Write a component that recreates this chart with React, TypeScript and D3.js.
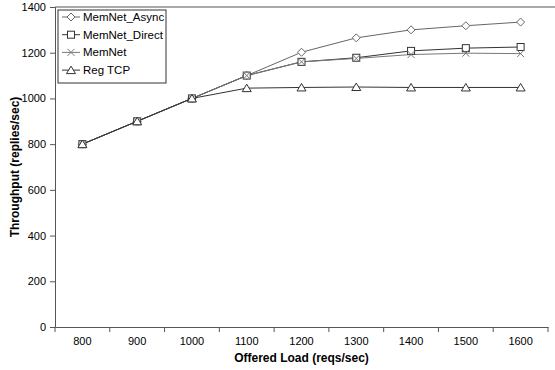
import React, { useEffect, useRef } from 'react';
import * as d3 from 'd3';

const loads = [800, 900, 1000, 1100, 1200, 1300, 1400, 1500, 1600];
const asyncVals = [800, 900, 1000, 1100, 1202, 1265, 1300, 1318, 1334];
const directVals = [800, 900, 1000, 1100, 1160, 1178, 1208, 1220, 1225];
const memnetVals = [800, 900, 1000, 1100, 1160, 1175, 1192, 1198, 1196];
const tcpVals = [800, 900, 1000, 1045, 1048, 1050, 1048, 1048, 1048];
const yTicks = [0, 200, 400, 600, 800, 1000, 1200, 1400];

const series = [
  { name: 'MemNet_Async', values: asyncVals, marker: 'diamond', color: '#666' },
  { name: 'MemNet_Direct', values: directVals, marker: 'square', color: '#333' },
  { name: 'MemNet', values: memnetVals, marker: 'cross', color: '#777' },
  { name: 'Reg TCP', values: tcpVals, marker: 'triangle', color: '#333' },
];

const width = 555;
const height = 370;
const margin = { top: 7, right: 7, bottom: 43, left: 55 };
const font = "'Liberation Sans', Arial, sans-serif";

function drawMarker(g: any, type: string, x: number, y: number, color: string) {
  if (type === 'diamond') {
    g.append('path').attr('d', `M${x},${y - 4}L${x + 4},${y}L${x},${y + 4}L${x - 4},${y}Z`)
      .attr('fill', 'white').attr('stroke', color).attr('stroke-width', 1);
  } else if (type === 'square') {
    g.append('rect').attr('x', x - 3.5).attr('y', y - 3.5).attr('width', 7).attr('height', 7)
      .attr('fill', 'white').attr('stroke', color).attr('stroke-width', 1);
  } else if (type === 'cross') {
    g.append('path').attr('d', `M${x - 3.5},${y - 3.5}L${x + 3.5},${y + 3.5}M${x - 3.5},${y + 3.5}L${x + 3.5},${y - 3.5}`)
      .attr('stroke', color).attr('stroke-width', 1);
  } else {
    g.append('path').attr('d', `M${x},${y - 4}L${x + 4.5},${y + 3.5}L${x - 4.5},${y + 3.5}Z`)
      .attr('fill', 'white').attr('stroke', color).attr('stroke-width', 1);
  }
}

export default function App() {
  const ref = useRef<SVGSVGElement>(null);

  useEffect(() => {
    const svg = d3.select(ref.current);
    svg.selectAll('*').remove();

    const innerW = width - margin.left - margin.right;
    const innerH = height - margin.top - margin.bottom;

    const x = d3.scaleBand<number>().domain(loads).range([0, innerW]);
    const y = d3.scaleLinear().domain([0, 1400]).range([innerH, 0]);

    const g = svg.append('g').attr('transform', `translate(${margin.left},${margin.top})`);

    // top border
    g.append('line').attr('x1', 0).attr('x2', width - margin.left).attr('y1', 0).attr('y2', 0)
      .attr('stroke', '#555').attr('stroke-width', 1);

    const xAxis = d3.axisBottom(x).tickSize(0).tickPadding(10);
    const xg = g.append('g').attr('transform', `translate(0,${innerH})`).call(xAxis);
    xg.select('.domain').attr('stroke', '#555');
    xg.selectAll('text').attr('font-size', 11).attr('font-family', font).attr('fill', '#000');
    const bounds = loads.map((d) => x(d)!).concat([innerW]);
    xg.selectAll('.tickmark').data(bounds).join('line').attr('class', 'tickmark')
      .attr('x1', (d) => d).attr('x2', (d) => d).attr('y1', 0).attr('y2', 5).attr('stroke', '#555');

    const yAxis = d3.axisLeft(y).tickValues(yTicks).tickFormat(d3.format('d')).tickSize(5).tickPadding(4);
    const yg = g.append('g').call(yAxis);
    yg.select('.domain').attr('stroke', '#555');
    yg.selectAll('.tick line').attr('stroke', '#555');
    yg.selectAll('text').attr('font-size', 11).attr('font-family', font).attr('fill', '#000');

    const line = d3.line<number>()
      .x((d, i) => x(loads[i])! + x.bandwidth() / 2)
      .y((d) => y(d));

    series.forEach((s) => {
      g.append('path').datum(s.values).attr('d', line).attr('fill', 'none')
        .attr('stroke', s.color).attr('stroke-width', 1);
    });
    series.forEach((s) => {
      s.values.forEach((v, i) => {
        drawMarker(g, s.marker, x(loads[i])! + x.bandwidth() / 2, y(v), s.color);
      });
    });

    // legend
    const lg = svg.append('g').attr('transform', 'translate(58,10)');
    lg.append('rect').attr('x', 0).attr('y', 0).attr('width', 108).attr('height', 73)
      .attr('fill', 'white').attr('stroke', '#333').attr('stroke-width', 1);
    series.forEach((s, i) => {
      const cy = 7 + i * 17.7;
      lg.append('line').attr('x1', 4).attr('x2', 22).attr('y1', cy).attr('y2', cy)
        .attr('stroke', s.color).attr('stroke-width', 1);
      drawMarker(lg, s.marker, 13, cy, s.color);
      lg.append('text').attr('x', 25).attr('y', cy + 4).text(s.name)
        .attr('font-size', 11.5).attr('font-family', font);
    });

    svg.append('text').attr('x', margin.left + innerW / 2).attr('y', 362)
      .attr('text-anchor', 'middle').attr('font-weight', 'bold').attr('font-size', 12)
      .attr('font-family', font).text('Offered Load (reqs/sec)');
    svg.append('text').attr('transform', `translate(19,${margin.top + innerH / 2}) rotate(-90)`)
      .attr('text-anchor', 'middle').attr('font-weight', 'bold').attr('font-size', 12)
      .attr('font-family', font).text('Throughput (replies/sec)');
  }, []);

  return (
    <svg ref={ref} width={width} height={height} style={{ position: 'absolute', left: 0, top: 0, background: 'white' }} />
  );
}
